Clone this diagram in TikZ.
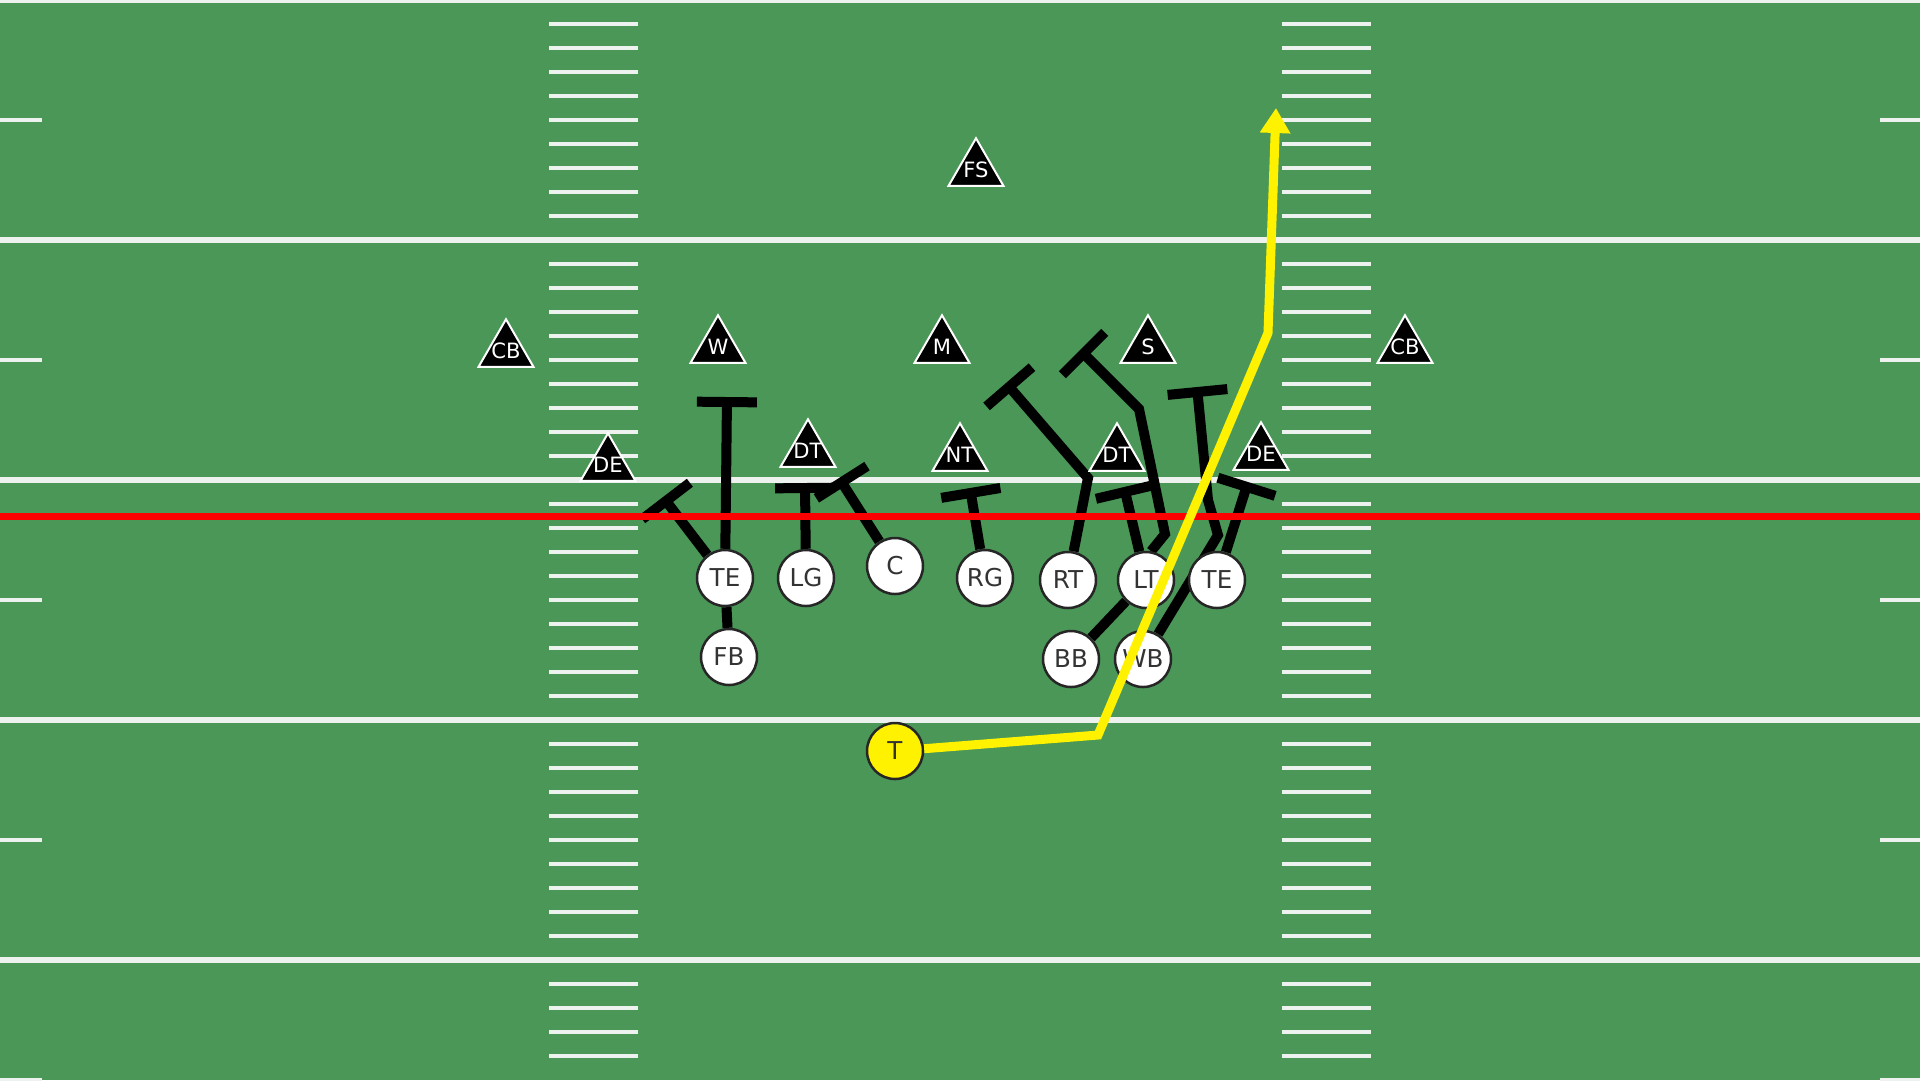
\documentclass[tikz,border=0pt]{standalone}
\usepackage{fontspec}
\setmainfont{DejaVu Sans}
\usetikzlibrary{shapes.geometric,arrows.meta}

\definecolor{grass}{RGB}{74,151,88}
\definecolor{chalk}{RGB}{238,242,238}
\pgfdeclarelayer{field}
\pgfdeclarelayer{lines}
\pgfsetlayers{field,lines,main}

\begin{document}
\begin{tikzpicture}[x=0.1mm, y=-0.1mm,
  offp/.style={circle, draw=black!85, line width=0.25mm, fill=white, text=black!80, minimum size=5.6mm, inner sep=0pt, font=\fontsize{7}{8}\selectfont},
  defp/.style={regular polygon, regular polygon sides=3, draw=white, line width=0.2mm, fill=black, minimum size=6.35mm, inner sep=0pt,
    label={[deflbl]center:#1}},
  deflbl/.style={text=white, inner sep=0pt, font=\fontsize{6}{7}\selectfont},
  blk/.style={line width=1mm, -{Bar[width=6mm]}},
  lead/.style={line width=1mm},
  route/.style={yellow, line width=0.9mm, -{Triangle[width=2.9mm, length=2.5mm]}}]
  \useasboundingbox (0,0) rectangle (1920,1080);
  % draw field
  \begin{pgfonlayer}{field}
  \fill[grass] (0,0) rectangle (1920,1080);
  \foreach \k in {1,...,44} {
    \draw[chalk, line width=0.4mm] (549,24*\k) -- (638,24*\k);
    \draw[chalk, line width=0.4mm] (1282,24*\k) -- (1371,24*\k);
  }
  \foreach \y in {120,360,600,840,1080} {
    \draw[chalk, line width=0.4mm] (0,\y) -- (42,\y);
    \draw[chalk, line width=0.4mm] (1880,\y) -- (1920,\y);
  }
  \foreach \y in {0,240,480,720,960}
    \draw[chalk, line width=0.6mm] (0,\y) -- (1920,\y);
  \end{pgfonlayer}

  % defense
  \node[defp=FS] (fs) at (976,170) {};
  \node[defp=CB] (cb1) at (506,351) {};
  \node[defp=W] (w) at (718,347) {};
  \node[defp=M] (m) at (942,347) {};
  \node[defp=S] (s) at (1148,347) {};
  \node[defp=CB] (cb2) at (1405,347) {};
  \node[defp=DE] (de1) at (608,465) {};
  \node[defp=DT] (dt1) at (808,451) {};
  \node[defp=NT] (nt) at (960,455) {};
  \node[defp=DT] (dt2) at (1117,455) {};
  \node[defp=DE] (de2) at (1261,454) {};

  % offense
  \node[offp] (te1) at (725,578) {TE};
  \node[offp] (fb) at (729,657) {FB};
  \node[offp] (lg) at (806,578) {LG};
  \node[offp] (c) at (895,566) {C};
  \node[offp] (rg) at (985,578) {RG};
  \node[offp] (rt) at (1068,580) {RT};
  \node[offp] (lt) at (1146,580) {LT};
  \node[offp] (te2) at (1217,580) {TE};
  \node[offp] (bb) at (1071,659) {BB};
  \node[offp] (wb) at (1143,659) {WB};
  \node[offp, fill=yellow] (t) at (895,751) {T};

  % blocks
  \begin{pgfonlayer}{lines}
  \draw[blk] (te1) -- (727,397);
  \draw[blk] (te1) -- (663,497);
  \draw[lead] (fb) -- (te1);
  \draw[blk] (lg) -- (805,483);
  \draw[blk] (c) -- (839,478);
  \draw[blk] (rg) -- (970,488);
  \draw[blk] (rt) -- (1088,478) -- (1006,383);
  \draw[blk] (lt) -- (1124,487);
  \draw[blk] (lt.80) -- (1165,534) -- (1139,409) -- (1080,350);
  \draw[blk] (wb) -- (1218,535) -- (1208,500) -- (1197,387);
  \draw[blk] (te2) -- (1248,482);
  \draw[lead] (bb) -- (lt);
  % line of scrimmage
  \draw[red, line width=0.7mm] (0,516) -- (1920,516);
  \end{pgfonlayer}

  % route
  \draw[route] (t) -- (1098,735) -- (1268,333) -- (1276,108);
\end{tikzpicture}
\end{document}
